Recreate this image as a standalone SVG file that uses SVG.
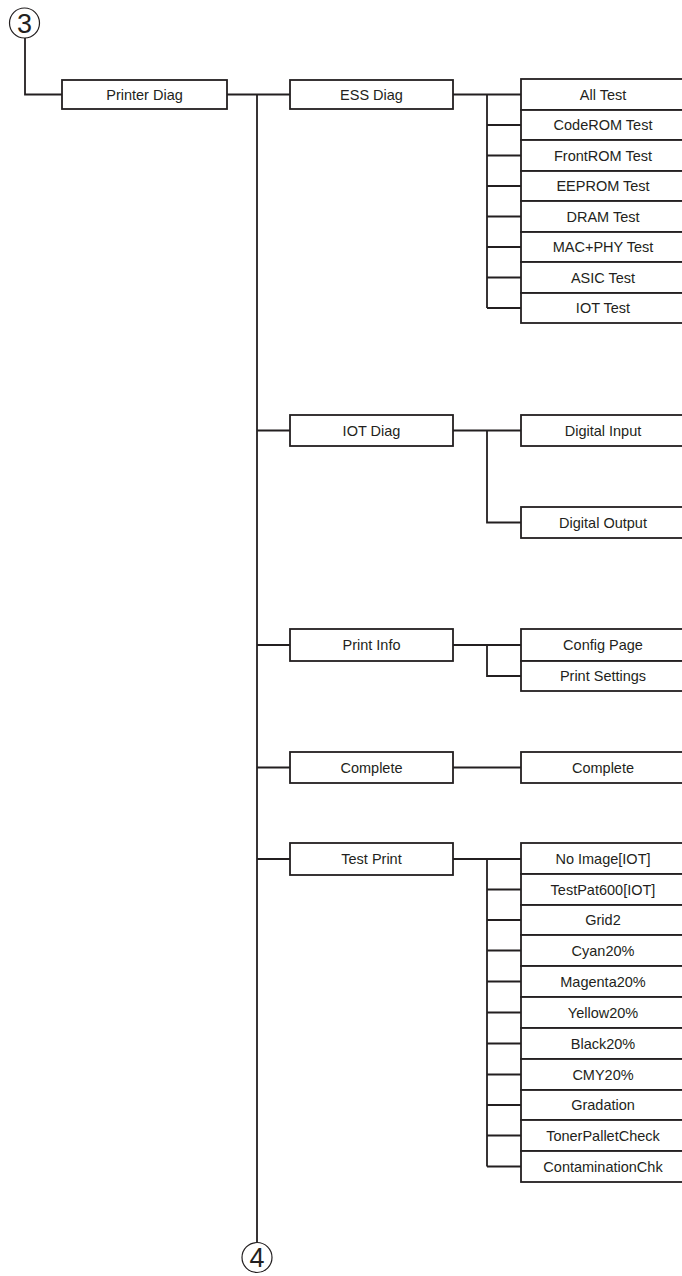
<svg xmlns="http://www.w3.org/2000/svg" width="682" height="1276" viewBox="0 0 682 1276">
<style>
.b{fill:#fff;stroke:#231f20;stroke-width:1.8}
.c{fill:none;stroke:#231f20;stroke-width:1.8}
.o{fill:none;stroke:#231f20;stroke-width:1.2}
text{font-family:"Liberation Sans",Arial,sans-serif;font-size:14.5px;fill:#231f20;text-anchor:middle}
.n{font-size:27px}
</style>
<rect width="682" height="1276" fill="#fff"/>
<g id="connectors" class="c">
<path d="M25 38V94.5H62"/>
<path d="M227 94.5H290M257 94.5V1242"/>
<path d="M257 430.5H290M257 645H290M257 767.5H290M257 859H290"/>
<path d="M453 94.5H521M487 94.5V308M487 125H521M487 155.5H521M487 186H521M487 216.5H521M487 247H521M487 277.5H521M487 308H521"/>
<path d="M453 430.5H521M487 430.5V522.5H521"/>
<path d="M453 645H521M487 645V676H521"/>
<path d="M453 767.5H521"/>
<path d="M453 859H521M487 859V1166.5M487 889.5H521M487 920H521M487 950.5H521M487 981.5H521M487 1012.5H521M487 1043.5H521M487 1074.5H521M487 1105H521M487 1135.5H521M487 1166.5H521"/>
</g>
<g id="c3"><circle class="o" cx="24.5" cy="23" r="15"/><text class="n" x="24.5" y="32.5">3</text></g>
<g id="c4"><circle class="o" cx="257" cy="1257.5" r="15"/><text class="n" x="257" y="1267">4</text></g>
<g id="printer-diag"><rect class="b" x="62" y="80" width="165" height="29"/><text x="144.5" y="100">Printer Diag</text></g>
<g id="ess-diag"><rect class="b" x="290" y="80" width="163" height="29"/><text x="371.5" y="100">ESS Diag</text></g>
<g id="iot-diag"><rect class="b" x="290" y="415" width="163" height="31"/><text x="371.5" y="435.5">IOT Diag</text></g>
<g id="print-info"><rect class="b" x="290" y="629" width="163" height="32"/><text x="371.5" y="650">Print Info</text></g>
<g id="complete1"><rect class="b" x="290" y="752" width="163" height="31"/><text x="371.5" y="772.5">Complete</text></g>
<g id="test-print"><rect class="b" x="290" y="843" width="163" height="32"/><text x="371.5" y="864">Test Print</text></g>
<g id="all-test"><rect class="b" x="521" y="79" width="170" height="31"/><text x="603" y="100">All Test</text></g>
<g id="coderom"><rect class="b" x="521" y="110" width="170" height="30"/><text x="603" y="130">CodeROM Test</text></g>
<g id="frontrom"><rect class="b" x="521" y="140" width="170" height="31"/><text x="603" y="160.5">FrontROM Test</text></g>
<g id="eeprom"><rect class="b" x="521" y="171" width="170" height="30"/><text x="603" y="191">EEPROM Test</text></g>
<g id="dram"><rect class="b" x="521" y="201" width="170" height="31"/><text x="603" y="221.5">DRAM Test</text></g>
<g id="macphy"><rect class="b" x="521" y="232" width="170" height="30"/><text x="603" y="252">MAC+PHY Test</text></g>
<g id="asic"><rect class="b" x="521" y="262" width="170" height="31"/><text x="603" y="282.5">ASIC Test</text></g>
<g id="iot-test"><rect class="b" x="521" y="293" width="170" height="30"/><text x="603" y="313">IOT Test</text></g>
<g id="digital-input"><rect class="b" x="521" y="415" width="170" height="31"/><text x="603" y="435.5">Digital Input</text></g>
<g id="digital-output"><rect class="b" x="521" y="507" width="170" height="31"/><text x="603" y="527.5">Digital Output</text></g>
<g id="config-page"><rect class="b" x="521" y="629" width="170" height="32"/><text x="603" y="650">Config Page</text></g>
<g id="print-settings"><rect class="b" x="521" y="661" width="170" height="30"/><text x="603" y="681">Print Settings</text></g>
<g id="complete2"><rect class="b" x="521" y="752" width="170" height="31"/><text x="603" y="772.5">Complete</text></g>
<g id="no-image"><rect class="b" x="521" y="843" width="170" height="31"/><text x="603" y="863.5">No Image[IOT]</text></g>
<g id="testpat"><rect class="b" x="521" y="874" width="170" height="31"/><text x="603" y="894.5">TestPat600[IOT]</text></g>
<g id="grid2"><rect class="b" x="521" y="905" width="170" height="30"/><text x="603" y="925">Grid2</text></g>
<g id="cyan"><rect class="b" x="521" y="935" width="170" height="31"/><text x="603" y="955.5">Cyan20%</text></g>
<g id="magenta"><rect class="b" x="521" y="966" width="170" height="31"/><text x="603" y="986.5">Magenta20%</text></g>
<g id="yellow"><rect class="b" x="521" y="997" width="170" height="31"/><text x="603" y="1017.5">Yellow20%</text></g>
<g id="black"><rect class="b" x="521" y="1028" width="170" height="31"/><text x="603" y="1048.5">Black20%</text></g>
<g id="cmy"><rect class="b" x="521" y="1059" width="170" height="31"/><text x="603" y="1079.5">CMY20%</text></g>
<g id="gradation"><rect class="b" x="521" y="1090" width="170" height="30"/><text x="603" y="1110">Gradation</text></g>
<g id="toner"><rect class="b" x="521" y="1120" width="170" height="31"/><text x="603" y="1140.5">TonerPalletCheck</text></g>
<g id="contam"><rect class="b" x="521" y="1151" width="170" height="31"/><text x="603" y="1171.5">ContaminationChk</text></g>
</svg>
